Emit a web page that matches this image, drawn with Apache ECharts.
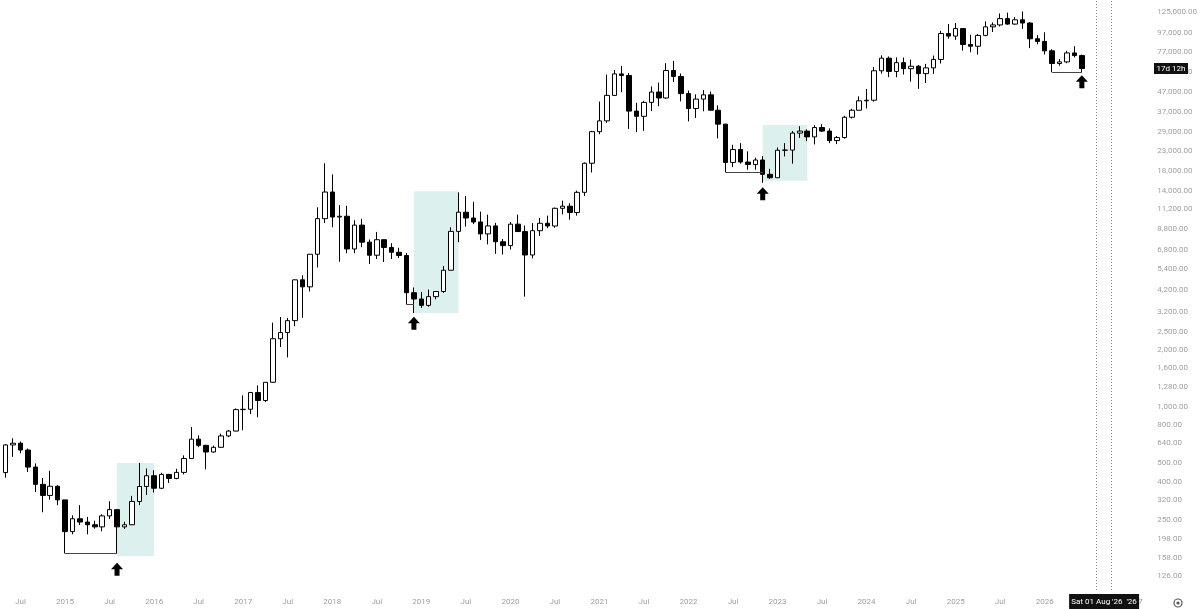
<!DOCTYPE html>
<html><head><meta charset="utf-8">
<script src="https://cdn.jsdelivr.net/npm/echarts@6/dist/echarts.min.js"></script>
<style>html,body{margin:0;padding:0;background:#fff}#c{width:1200px;height:609px}</style>
</head><body><div id="c"></div>
<script>
// ---- months on the axis (May 2014 .. Mar 2027) ----
const startYear = 2014, startMonth = 5, totalMonths = 155;
const categories = [];
for (let i = 0; i < totalMonths; i++) {
  const m = startMonth - 1 + i;
  const y = startYear + Math.floor(m / 12);
  const mm = (m % 12) + 1;
  categories.push(y + '-' + (mm < 10 ? '0' + mm : mm));
}

// ---- monthly OHLC, May 2014 .. Jun 2026 ----
const open = [
  447,627,640,589,478,387,338,378,
  320,217,254,244,236,230,263,284,230,236,314,377,
  430,369,437,416,448,531,673,624,575,609,700,743,
  966,970,1190,1080,1350,2300,2480,2870,4730,4340,6470,10000,
  13850,10200,10300,6900,9240,7500,6390,7730,7030,6630,6370,4040,
  3740,3460,3850,4100,5320,8560,10820,10080,9600,8300,9150,7540,
  7190,9350,8540,6410,8630,9450,9140,11350,11650,10780,13800,19700,
  29000,33100,45200,58800,57700,37300,35000,41500,47100,43800,61300,57000,
  46200,38500,43200,45500,37700,31800,19900,23300,20000,19400,20500,17200,
  16500,23100,23150,28500,29200,27200,30500,29200,26000,27000,34600,37700,
  42300,42600,61100,71300,60600,67500,62700,64600,59000,63300,70200,96400,
  93400,102400,84300,82500,94200,104600,107100,115700,108200,114000,109600,90400,
  87500,78000,66800,68100,76000,73600
];
const high = [
  633,680,654,600,500,418,457,383,
  320,265,300,260,248,268,315,286,245,336,503,470,
  460,446,440,468,552,780,705,627,622,720,753,980,
  1150,1200,1300,1350,2800,3000,2970,4750,5000,6470,11500,19700,
  17200,11800,11700,9800,9980,7750,8500,7750,7400,7000,6560,4310,
  4080,4200,4120,5600,9000,13800,13200,12300,10900,10500,9500,7800,
  9600,10500,9200,9470,10080,10380,11450,12470,12080,14100,19900,29300,
  41900,58300,61700,64900,59500,41300,42300,50500,52900,67000,69000,59100,
  48000,45800,48200,47400,40000,31900,24700,25200,22800,21100,21500,18400,
  23900,25200,29200,31000,29800,31400,31800,30200,27500,35200,38400,44700,
  48900,64000,73800,72800,72000,71900,70000,65600,66500,73600,99600,108300,
  109600,102500,95000,95800,111900,110500,123200,124500,117900,126200,111000,94600,
  97900,79500,70500,78000,82500,74500
];
const low = [
  420,542,566,450,352,275,321,300,
  166,210,235,210,225,218,253,166,224,235,300,340,
  350,365,394,412,437,528,610,465,570,605,690,740,
  750,915,880,1060,1340,2080,1830,2680,2970,4100,5500,9500,
  9000,5900,6550,6550,7050,5750,6100,5880,6100,6180,3500,3150,
  3350,3400,3730,4030,5300,7500,9080,9350,7700,7300,6500,6450,
  6850,8500,3850,6150,8100,8900,8950,10530,9880,10380,13200,17600,
  28100,32300,45000,47000,30000,28800,29300,37300,39600,43300,53300,42000,
  32900,34300,37200,37600,26700,17600,18800,19600,18200,18200,15500,16300,
  16500,21400,19600,26900,25800,24800,28900,25200,24900,26600,34100,37600,
  38500,41900,59000,56500,56500,58400,53500,49000,52600,58900,66800,90500,
  89200,78200,76600,74500,93300,98200,105100,107300,107300,102000,80600,84400,
  74600,60000,65000,67000,72000,60000
];
const close = [
  627,640,589,478,387,338,378,320,
  217,254,244,236,230,263,284,230,236,314,377,430,
  369,437,416,448,531,673,624,575,609,700,743,966,
  970,1190,1080,1350,2300,2480,2870,4730,4340,6470,10000,13850,
  10200,10300,6900,9240,7500,6390,7730,7030,6630,6370,4040,3740,
  3460,3850,4100,5320,8560,10820,10080,9600,8300,9150,7540,7190,
  9350,8540,6410,8630,9450,9140,11350,11650,10780,13800,19700,29000,
  33100,45200,58800,57700,37300,35000,41500,47100,43800,61300,57000,46200,
  38500,43200,45500,37700,31800,19900,23300,20000,19400,20500,17200,16500,
  23100,23150,28500,29200,27200,30500,29200,26000,27000,34600,37700,42300,
  42600,61100,71300,60600,67500,62700,64600,59000,63300,70200,96400,93400,
  102400,84300,82500,94200,104600,107100,115700,108200,114000,109600,90400,87500,
  78000,66800,68100,76000,73600,62800
];

// ---- price scale tick labels ----
const yTicks = [126,158,198,250,320,400,500,640,800,1000,1280,1600,2000,2500,3200,
  4200,5400,6800,8800,11200,14000,18000,23000,29000,37000,47000,60000,77000,97000,125000];
const yMin = 106.2, yMax = 145300;

// ---- annotations ----
const bracketLines = [ ['2015-01','2015-08',166], ['2018-11','2018-12',3500],
                       ['2022-06','2022-11',17600], ['2026-02','2026-06',60000] ];
const zones = [ ['2015-08','2016-01',161,502], ['2018-12','2019-06',3150,14000],
                ['2022-11','2023-05',15900,31500] ];
const arrows = [ ['2015-08',137], ['2018-12',2784], ['2022-11',13580], ['2026-06',53450] ];
const dottedMonths = ['2026-08','2026-10'];
const countdownText = '17d 12h';
const cursorMonth = '2026-09';
const cursorText = "Sat 01 Aug '26  '26";

const FONT = 'Roboto';
const candles = open.map((o, i) => [o, close[i], low[i], high[i]]);
const fmtPrice = v => Number(v).toLocaleString('en-US', {minimumFractionDigits: 2, maximumFractionDigits: 2});

const chart = echarts.init(document.getElementById('c'), null, {renderer: 'canvas'});
chart.setOption({
  animation: false,
  backgroundColor: '#ffffff',
  grid: {left: 2, width: totalMonths * 7.43, top: 0, bottom: 19},
  xAxis: {
    type: 'category', data: categories, boundaryGap: true,
    axisLine: {show: false}, axisTick: {show: false}, splitLine: {show: false},
    axisLabel: {
      interval: (idx, val) => /-(01|07)$/.test(val),
      formatter: val => val.endsWith('-01') ? val.slice(0, 4) : 'Jul',
      color: '#a0a0a0', fontSize: 8, fontFamily: FONT, margin: 8
    }
  },
  yAxis: {
    type: 'log', logBase: 10, min: yMin, max: yMax, position: 'right',
    axisLine: {show: false}, axisTick: {show: false}, splitLine: {show: false},
    axisLabel: {
      customValues: yTicks, formatter: v => fmtPrice(v),
      color: '#a0a0a0', fontSize: 8, fontFamily: FONT, align: 'left', margin: 5
    }
  },
  series: [
    {
      type: 'line', data: [], z: 1, silent: true,
      markArea: {
        silent: true,
        itemStyle: {color: '#dcf0ed'},
        data: zones.map(z => [{coord: [z[0], z[2]]}, {coord: [z[1], z[3]]}])
      }
    },
    {
      type: 'candlestick', data: candles, z: 3, barWidth: 5,
      itemStyle: {color: '#ffffff', color0: '#000000', borderColor: '#000000', borderColor0: '#000000', borderWidth: 1},
      markLine: {
        silent: true, symbol: ['none', 'none'], label: {show: false},
        data: [
          ...bracketLines.map(b => [{coord: [b[0], b[2]], lineStyle: {color: '#444', width: 1, type: 'solid'}},
                                    {coord: [b[1], b[2]]}]),
          ...dottedMonths.map(m => ({xAxis: m, lineStyle: {color: '#888', width: 1, type: [1, 2]}}))
        ]
      },
      markPoint: {
        silent: true,
        symbol: 'path://M6,0 L12,6 L8.5,6 L8.5,12 L3.5,12 L3.5,6 L0,6 Z',
        symbolSize: [12, 13],
        itemStyle: {color: '#000'},
        label: {show: false},
        data: arrows.map(a => ({coord: [a[0], a[1]]}))
      }
    }
  ]
});

// overlay labels positioned through the chart's own scales
const yLast = chart.convertToPixel({yAxisIndex: 0}, close[close.length - 1]);
const xCursor = chart.convertToPixel({xAxisIndex: 0}, cursorMonth);
chart.setOption({
  graphic: [
    {type: 'rect', shape: {x: 1154, y: yLast - 5.5, width: 34, height: 11}, style: {fill: '#111'}, z: 10},
    {type: 'text', x: 1171, y: yLast, style: {text: countdownText, fill: '#fff', font: '8px ' + FONT, align: 'center', verticalAlign: 'middle'}, z: 11},
    {type: 'rect', shape: {x: xCursor - 35, y: 594, width: 70, height: 15}, style: {fill: '#111'}, z: 10},
    {type: 'text', x: xCursor, y: 602, style: {text: cursorText, fill: '#fff', font: '8px ' + FONT, align: 'center', verticalAlign: 'middle'}, z: 11},
    {type: 'circle', shape: {cx: 1178, cy: 603, r: 4}, style: {fill: 'none', stroke: '#555', lineWidth: 1.2}, z: 10},
    {type: 'circle', shape: {cx: 1178, cy: 603, r: 1.6}, style: {fill: '#555'}, z: 10}
  ]
});
</script></body></html>
